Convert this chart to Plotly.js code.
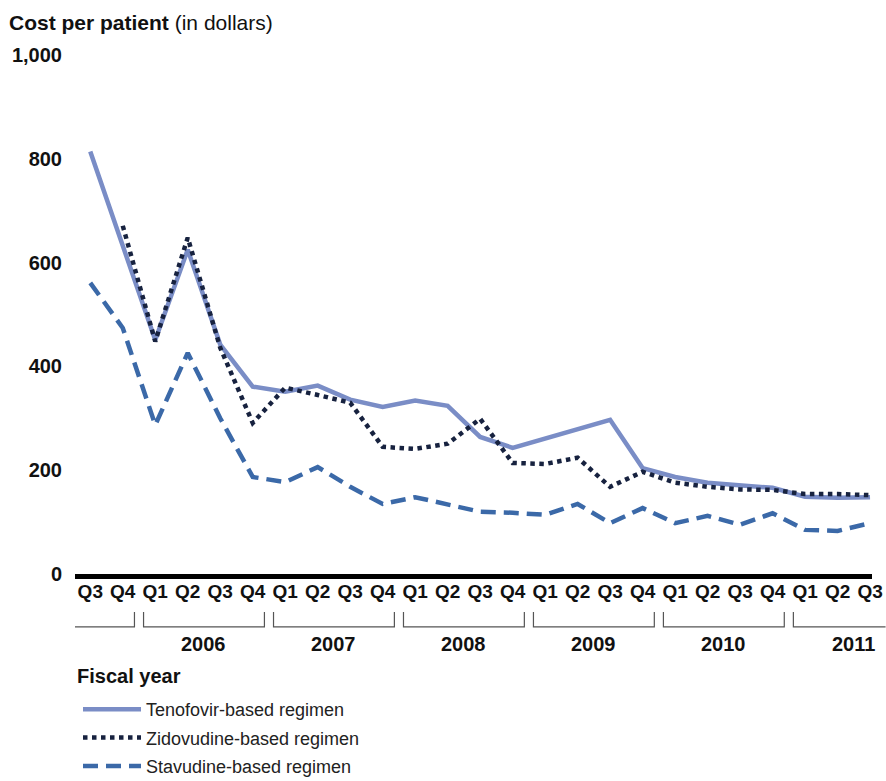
<!DOCTYPE html>
<html>
<head>
<meta charset="utf-8">
<script src="https://cdn.plot.ly/plotly-3.0.1.min.js"></script>
<style>html,body{margin:0;padding:0;background:#fff;}#chart{width:886px;height:781px;}</style>
</head>
<body>
<div id="chart"></div>
<script>
// Quarter labels (fiscal quarters, Q3 FY2005 .. Q3 FY2011)
var quarters = ["Q3","Q4","Q1","Q2","Q3","Q4","Q1","Q2","Q3","Q4","Q1","Q2","Q3","Q4",
                "Q1","Q2","Q3","Q4","Q1","Q2","Q3","Q4","Q1","Q2","Q3"];
var fiscalYears = [2005,2005,2006,2006,2006,2006,2007,2007,2007,2007,2008,2008,2008,2008,
                   2009,2009,2009,2009,2010,2010,2010,2010,2011,2011,2011];
var yearLabels = ["", "2006", "2007", "2008", "2009", "2010", "2011"];

// Cost per patient (dollars)
var tenofovir  = [814,null,451,625,442,361,351,363,336,322,334,324,264,243,
                  null,null,297,204,187,176,170,166,149,147,148];
var zidovudine = [null,671,448,648,436,291,359,345,330,245,241,251,299,214,
                  212,224,168,197,176,168,163,162,154,154,152];
var stavudine  = [561,474,287,426,300,187,177,206,168,135,148,135,120,118,
                  114,135,98,127,98,112,95,117,85,83,98];

var idx = quarters.map(function(_, i){ return i; });
var xr = [-0.47, 24.06];
function toPaper(v){ return (v - xr[0]) / (xr[1] - xr[0]); }

var traces = [
  {x: idx, y: tenofovir, name: "Tenofovir-based regimen", type: "scatter", mode: "lines",
   connectgaps: true, legendgroup: "a",
   line: {color: "#7a8dc6", width: 4.5}},
  {x: idx, y: zidovudine, name: "Zidovudine-based regimen", type: "scatter", mode: "lines",
   connectgaps: true, legendgroup: "b",
   line: {color: "#17223f", width: 4.5, dash: "dot"}},
  {x: idx, y: stavudine, name: "Stavudine-based regimen", type: "scatter", mode: "lines",
   connectgaps: true, legendgroup: "c",
   line: {color: "#3b69a8", width: 4.5, dash: "15px,8px"}}
];

// year brackets below the quarter labels
var shapes = [], annotations = [];
var uniqYears = [];
fiscalYears.forEach(function(y){ if (uniqYears.indexOf(y) < 0) uniqYears.push(y); });
var g = 0.14;
var yLine = -0.102, yTop = -0.073, yText = -0.135;
uniqYears.forEach(function(yr, k){
  var first = fiscalYears.indexOf(yr), last = fiscalYears.lastIndexOf(yr);
  var isFirst = (k === 0), isLast = (k === uniqYears.length - 1);
  var left = isFirst ? 0 : toPaper(first - 0.5 + g);
  var right = isLast ? 1.017 : toPaper(last + 0.5 - g);
  var path = "";
  if (!isFirst) path += "M" + left + "," + yTop + " L" + left + "," + yLine + " ";
  else path += "M" + left + "," + yLine + " ";
  path += "L" + right + "," + yLine;
  if (!isLast) path += " L" + right + "," + yTop;
  shapes.push({type: "path", xref: "paper", yref: "paper", path: path,
               line: {color: "#555555", width: 1.2}});
  if (yearLabels[k]) {
    var center = isLast ? first + 1.5 : (first + last) / 2;
    annotations.push({xref: "paper", yref: "paper", x: toPaper(center), y: yText,
      text: "<b>" + yearLabels[k] + "</b>", showarrow: false, xanchor: "center", yanchor: "middle",
      font: {size: 20, color: "#111", family: "Liberation Sans, Arial, sans-serif"}});
  }
});

annotations.push({xref: "paper", yref: "paper", x: 0.0, y: -0.1965,
  xanchor: "left", yanchor: "middle", showarrow: false, text: "<b>Fiscal year</b>",
  font: {size: 20, color: "#111", family: "Liberation Sans, Arial, sans-serif"}});

var layout = {
  width: 886, height: 781,
  margin: {l: 75, r: 14, t: 55, b: 207, autoexpand: false},
  paper_bgcolor: "#ffffff", plot_bgcolor: "#ffffff",
  font: {family: "Liberation Sans, Arial, sans-serif", color: "#111"},
  title: {text: "<b>Cost per patient</b> <span style='font-weight:normal'>(in dollars)</span>",
          x: 9/886, xanchor: "left", xref: "container",
          y: 1 - 23/781, yanchor: "middle", yref: "container",
          font: {size: 21, color: "#111"}},
  showlegend: true,
  legend: {x: 78/886, xref: "container", xanchor: "left",
           y: 1 - 691/781, yref: "container", yanchor: "top",
           traceorder: "grouped", tracegroupgap: 2, itemwidth: 58,
           font: {size: 18, color: "#222"}},
  xaxis: {range: xr, tickvals: idx, ticktext: quarters, showgrid: false, zeroline: false,
          showline: true, linecolor: "#000", linewidth: 5, ticks: "", ticklabelstandoff: -4,
          tickangle: 0, automargin: false,
          tickfont: {size: 19, color: "#111", weight: "bold"}, fixedrange: true},
  yaxis: {range: [0, 1000], tickvals: [0,200,400,600,800,1000], tickformat: ",",
          showgrid: false, zeroline: false, showline: false, ticks: "", ticklabelstandoff: 12,
          automargin: false,
          tickfont: {size: 20, color: "#111", weight: "bold"}, fixedrange: true},
  shapes: shapes,
  annotations: annotations
};

Plotly.newPlot("chart", traces, layout, {displayModeBar: false, staticPlot: true});
</script>
</body>
</html>
